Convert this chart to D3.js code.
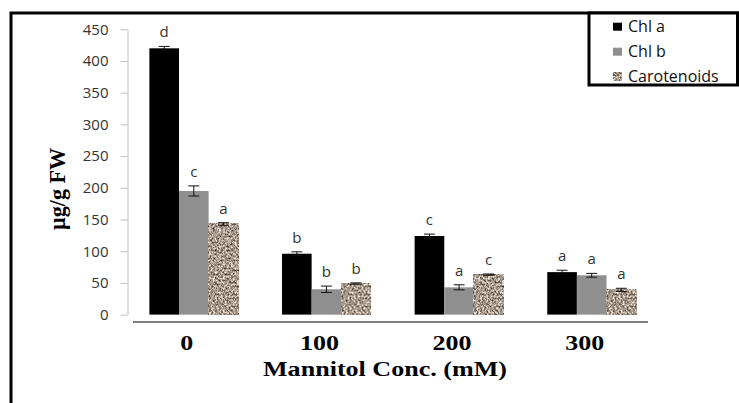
<!DOCTYPE html>
<html>
<head>
<meta charset="utf-8">
<script src="https://cdn.jsdelivr.net/npm/d3@7"></script>
<style>
  body { margin: 0; background: #fff; }
  svg { display: block; }
</style>
</head>
<body>
<svg id="chart" width="739" height="403"></svg>
<script>
// data
var categories = ["0", "100", "200", "300"];
var seriesNames = ["Chl a", "Chl b", "Carotenoids"];
var chlA = [420, 96, 124, 67];
var chlB = [195, 40, 43, 62];
var carot = [143, 49, 63, 39];
var errA = [3, 3, 3, 3];
var errB = [8, 5, 4, 3];
var errC = [2, 1, 1, 2.5];
var lettersA = ["d", "b", "c", "a"];
var lettersB = ["c", "b", "a", "a"];
var lettersC = ["a", "b", "c", "a"];
var yTicks = [0, 50, 100, 150, 200, 250, 300, 350, 400, 450];

var values = [chlA, chlB, carot];
var errs = [errA, errB, errC];
var letters = [lettersA, lettersB, lettersC];
var fills = ["#000000", "#8f8f8f", "#a0968a"];

var svg = d3.select("#chart");

// granite-like texture for carotenoids
var defs = svg.append("defs");
var f = defs.append("filter").attr("id", "granite")
  .attr("filterUnits", "objectBoundingBox")
  .attr("color-interpolation-filters", "sRGB")
  .attr("x", 0).attr("y", 0).attr("width", 1).attr("height", 1);
f.append("feTurbulence").attr("type", "fractalNoise")
  .attr("baseFrequency", 0.5).attr("numOctaves", 2).attr("seed", 7).attr("result", "n");
f.append("feColorMatrix").attr("in", "n").attr("type", "matrix")
  .attr("values", "1.35 0 0 0 -0.02  1.35 0 0 0 -0.07  1.35 0 0 0 -0.12  0 0 0 0 1");

var x0 = d3.scaleBand().domain(categories).range([127.5, 658]).paddingInner(0.33).paddingOuter(0.165);
var x1 = d3.scaleBand().domain(seriesNames).range([0, x0.bandwidth()]).padding(0);
var y = d3.scaleLinear().domain([0, 450]).range([314.6, 29.3]);

// frame
svg.append("rect").attr("x", 11).attr("y", 13).attr("width", 900).attr("height", 600)
  .attr("fill", "none").attr("stroke", "#000").attr("stroke-width", 3);

// y axis
var yAxis = svg.append("g").attr("transform", "translate(127.5,0)")
  .call(d3.axisLeft(y).tickValues(yTicks).tickSize(7).tickPadding(12).tickSizeOuter(0));
yAxis.select(".domain").attr("stroke", "#c0c0c0");
yAxis.selectAll(".tick line").attr("stroke", "#c0c0c0");
yAxis.selectAll(".tick text").attr("fill", "#333")
  .style("font-family", "'Open Sans', sans-serif").style("font-size", "15px");

// x axis line
svg.append("line").attr("x1", 133).attr("x2", 648).attr("y1", 322).attr("y2", 322)
  .attr("stroke", "#555").attr("stroke-width", 1.5);

// bars
var groups = svg.selectAll("g.grp").data(categories).enter().append("g")
  .attr("class", "grp")
  .attr("transform", function(d) { return "translate(" + x0(d) + ",0)"; });

seriesNames.forEach(function(s, si) {
  groups.append("rect")
    .attr("x", x1(s))
    .attr("y", function(d, i) { return y(values[si][i]); })
    .attr("width", x1.bandwidth())
    .attr("height", function(d, i) { return y(0) - y(values[si][i]); })
    .attr("fill", fills[si])
    .attr("filter", si == 2 ? "url(#granite)" : null);
});

// error bars + letters
seriesNames.forEach(function(s, si) {
  groups.each(function(d, i) {
    var g = d3.select(this);
    var cx = x1(s) + x1.bandwidth() / 2;
    var v = values[si][i], e = errs[si][i];
    var top = y(v + e), bot = y(v - e);
    g.append("line").attr("x1", cx).attr("x2", cx).attr("y1", top).attr("y2", bot)
      .attr("stroke", "#111").attr("stroke-width", 1);
    [top, bot].forEach(function(yy) {
      g.append("line").attr("x1", cx - 5.5).attr("x2", cx + 5.5).attr("y1", yy).attr("y2", yy)
        .attr("stroke", "#111").attr("stroke-width", 1);
    });
    g.append("text").attr("x", cx).attr("y", top - 9)
      .attr("text-anchor", "middle").attr("fill", "#333")
      .style("font-family", "'Open Sans', sans-serif").style("font-size", "15px")
      .text(letters[si][i]);
  });
});

// x tick labels
svg.selectAll("text.xlab").data(categories).enter().append("text")
  .attr("class", "xlab")
  .attr("x", function(d) { return x0(d) + x0.bandwidth() / 2 - 7; })
  .attr("y", 350)
  .attr("text-anchor", "middle")
  .attr("textLength", function(d) { return d.length * 13; })
  .attr("lengthAdjust", "spacingAndGlyphs")
  .style("font-family", "'Liberation Serif', 'Times New Roman', serif")
  .style("font-weight", "bold").style("font-size", "21px")
  .text(function(d) { return d; });

// axis titles
svg.append("text").attr("x", 385).attr("y", 376).attr("text-anchor", "middle")
  .attr("textLength", 244).attr("lengthAdjust", "spacingAndGlyphs")
  .style("font-family", "'Liberation Serif', 'Times New Roman', serif")
  .style("font-weight", "bold").style("font-size", "22px")
  .text("Mannitol Conc. (mM)");

svg.append("text").attr("transform", "translate(65,189) rotate(-90)")
  .attr("text-anchor", "middle")
  .attr("textLength", 82).attr("lengthAdjust", "spacingAndGlyphs")
  .style("font-family", "'Liberation Serif', 'Times New Roman', serif")
  .style("font-weight", "bold").style("font-size", "23px")
  .text("µg/g FW");

// legend
svg.append("rect").attr("x", 589).attr("y", 13).attr("width", 148.5).attr("height", 72)
  .attr("fill", "#fff").attr("stroke", "#000").attr("stroke-width", 3);
var leg = svg.selectAll("g.leg").data(seriesNames).enter().append("g")
  .attr("class", "leg")
  .attr("transform", function(d, i) { return "translate(613," + (26.7 + i * 25) + ")"; });
leg.append("rect").attr("x", 0).attr("y", -4).attr("width", 9).attr("height", 8)
  .attr("fill", function(d, i) { return fills[i]; })
  .attr("filter", function(d, i) { return i == 2 ? "url(#granite)" : null; });
leg.append("text").attr("x", 15).attr("y", 5.5)
  .attr("fill", "#111")
  .style("font-family", "'Open Sans', sans-serif").style("font-size", "16px")
  .text(function(d) { return d; });
</script>
</body>
</html>
